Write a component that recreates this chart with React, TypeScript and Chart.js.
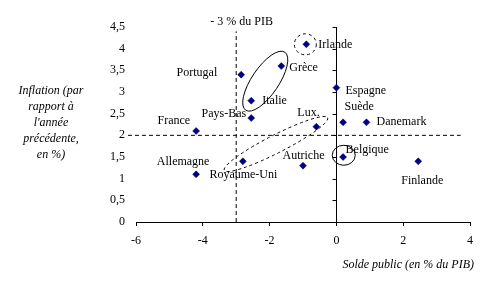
import React, { useEffect, useRef } from "react";
import { Chart, registerables } from "chart.js";

Chart.register(...registerables);

// ---- data ----
const countries = [
  "Irlande", "Grèce", "Portugal", "Italie", "Pays-Bas", "Espagne", "Suède", "Danemark",
  "Lux.", "France", "Allemagne", "Royaume-Uni", "Autriche", "Belgique", "Finlande",
];
const soldePublic = [-0.9, -1.65, -2.85, -2.55, -2.55, 0.0, 0.2, 0.9, -0.6, -4.2, -4.2, -2.8, -1.0, 0.2, 2.45];
const inflation = [4.1, 3.6, 3.4, 2.8, 2.4, 3.1, 2.3, 2.3, 2.2, 2.1, 1.1, 1.4, 1.3, 1.5, 1.4];

const xTickLabels = ["-6", "-4", "-2", "0", "2", "4"];
const yTickLabels = ["0", "0,5", "1", "1,5", "2", "2,5", "3", "3,5", "4", "4,5"];

const seuilDeficit = -3; // - 3 % du PIB
const seuilInflation = 2;

const yTitleLines = ["Inflation (par", "rapport à", "l'année", "précédente,", "en %)"];
const xTitle = "Solde public (en % du PIB)";
const refLabel = "- 3 % du PIB";

// ---- layout / style config (label placements relative to each point) ----
const labelPlacement: [number, number, CanvasTextAlign][] = [
  [12, 1, "left"],
  [8, 1.5, "left"],
  [-24, -1.5, "right"],
  [11, 0.5, "left"],
  [-5, -4, "right"],
  [9, 3, "left"],
  [1.5, -15, "left"],
  [10, 0, "left"],
  [-19, -13.5, "left"],
  [-6, -10, "right"],
  [-13, -12, "center"],
  [-33.5, 13.5, "left"],
  [-20.5, -9.5, "left"],
  [2.5, -7.5, "left"],
  [-17, 19.5, "left"],
];

// ellipses: centre in data units, radii in px, rotation deg, dashed
const ellipses = [
  { x: -2.13, y: 3.25, rx: 35, ry: 13.5, rot: -56, dashed: false },
  { x: -1.81, y: 1.8, rx: 58, ry: 9, rot: -27, dashed: true },
  { x: -0.93, y: 4.1, rx: 11, ry: 10.5, rot: 0, dashed: true },
  { x: 0.22, y: 1.54, rx: 11.5, ry: 10, rot: 0, dashed: false },
];

const FONT = "'Liberation Serif', 'Times New Roman', serif";

const overlayPlugin = {
  id: "overlay",
  beforeDatasetsDraw(chart: any) {
    const { ctx, scales } = chart;
    const xs = scales.x;
    const ys = scales.y;
    // y axis line at x = 0 with tick marks on the left
    const x0 = Math.round(xs.getPixelForValue(0)) + 0.5;
    ctx.save();
    ctx.strokeStyle = "#000";
    ctx.lineWidth = 1;
    ctx.beginPath();
    ctx.moveTo(x0, ys.getPixelForValue(4.5));
    ctx.lineTo(x0, ys.getPixelForValue(0));
    yTickLabels.forEach((_, i) => {
      const v = i * 0.5;
      if (v === 0) return;
      const py = Math.round(ys.getPixelForValue(v)) + 0.5;
      ctx.moveTo(x0 - 4, py);
      ctx.lineTo(x0, py);
    });
    ctx.stroke();
    ctx.restore();
  },
  afterDatasetsDraw(chart: any) {
    const { ctx, scales, chartArea } = chart;
    const xs = scales.x;
    const ys = scales.y;
    ctx.save();
    // ellipses
    ctx.strokeStyle = "#000";
    ctx.lineWidth = 1;
    ellipses.forEach((e) => {
      ctx.beginPath();
      ctx.setLineDash(e.dashed ? [3, 3] : []);
      ctx.ellipse(
        xs.getPixelForValue(e.x),
        ys.getPixelForValue(e.y),
        e.rx,
        e.ry,
        (e.rot * Math.PI) / 180,
        0,
        Math.PI * 2
      );
      ctx.stroke();
    });
    ctx.setLineDash([]);
    // point labels
    ctx.fillStyle = "#000";
    ctx.font = `12px ${FONT}`;
    ctx.textBaseline = "middle";
    countries.forEach((name, i) => {
      const [dx, dy, align] = labelPlacement[i];
      ctx.textAlign = align;
      ctx.fillText(
        name,
        xs.getPixelForValue(soldePublic[i]) + dx,
        ys.getPixelForValue(inflation[i]) + dy
      );
    });
    // reference label
    ctx.textAlign = "center";
    ctx.fillText(refLabel, xs.getPixelForValue(seuilDeficit) + 5.5, chartArea.top - 5.5);
    // y title
    ctx.font = `italic 12px ${FONT}`;
    yTitleLines.forEach((l, i) => {
      ctx.fillText(l, 51, 91 + i * 16);
    });
    // x title
    ctx.textAlign = "right";
    ctx.fillText(xTitle, 474, 265);
    ctx.restore();
  },
};

export default function App() {
  const ref = useRef<HTMLCanvasElement | null>(null);
  useEffect(() => {
    if (!ref.current) return;
    const chart = new Chart(ref.current, {
      type: "scatter",
      data: {
        datasets: [
          {
            label: "seuil inflation",
            data: [
              { x: -6.24, y: seuilInflation },
              { x: 3.72, y: seuilInflation },
            ],
            showLine: true,
            borderColor: "#000",
            borderWidth: 1,
            borderDash: [4, 3],
            pointRadius: 0,
            clip: false as any,
          },
          {
            label: "seuil déficit",
            data: [
              { x: seuilDeficit, y: 0 },
              { x: seuilDeficit, y: 4.4 },
            ],
            showLine: true,
            borderColor: "#000",
            borderWidth: 1,
            borderDash: [4, 3],
            pointRadius: 0,
            clip: false as any,
          },
          {
            label: "pays",
            data: countries.map((_, i) => ({ x: soldePublic[i], y: inflation[i] })),
            pointStyle: "rectRot",
            pointRadius: 3.5,
            pointBackgroundColor: "#000080",
            pointBorderColor: "#000080",
            pointBorderWidth: 0.5,
            showLine: false,
          },
        ],
      },
      options: {
        responsive: false,
        animation: false,
        layout: { padding: { top: 27, right: 22, left: 0, bottom: 0 } },
        plugins: {
          legend: { display: false },
          tooltip: { enabled: false },
          title: { display: false },
        },
        scales: {
          x: {
            type: "linear",
            min: -6,
            max: 4,
            afterFit: (s: any) => {
              s.height = 70;
            },
            ticks: {
              stepSize: 2,
              padding: 8,
              color: "#000",
              font: { family: FONT, size: 12 },
              callback: (_v: any, i: number) => xTickLabels[i],
            },
            grid: {
              display: true,
              drawOnChartArea: false,
              drawTicks: true,
              tickLength: 4,
              color: "#000",
            },
            border: { display: true, color: "#000", width: 1 },
          },
          y: {
            type: "linear",
            min: 0,
            max: 4.5,
            afterFit: (s: any) => {
              s.width = 136;
            },
            ticks: {
              stepSize: 0.5,
              padding: 11,
              color: "#000",
              font: { family: FONT, size: 12 },
              callback: (_v: any, i: number) => yTickLabels[i],
            },
            grid: { display: false, drawTicks: false },
            border: { display: false },
          },
        },
      },
      plugins: [overlayPlugin],
    });
    return () => chart.destroy();
  }, []);
  return (
    <div style={{ position: "fixed", left: 0, top: 0, width: 492, height: 292, background: "#fff" }}>
      <canvas ref={ref} width={492} height={292} style={{ width: 492, height: 292 }} />
    </div>
  );
}
